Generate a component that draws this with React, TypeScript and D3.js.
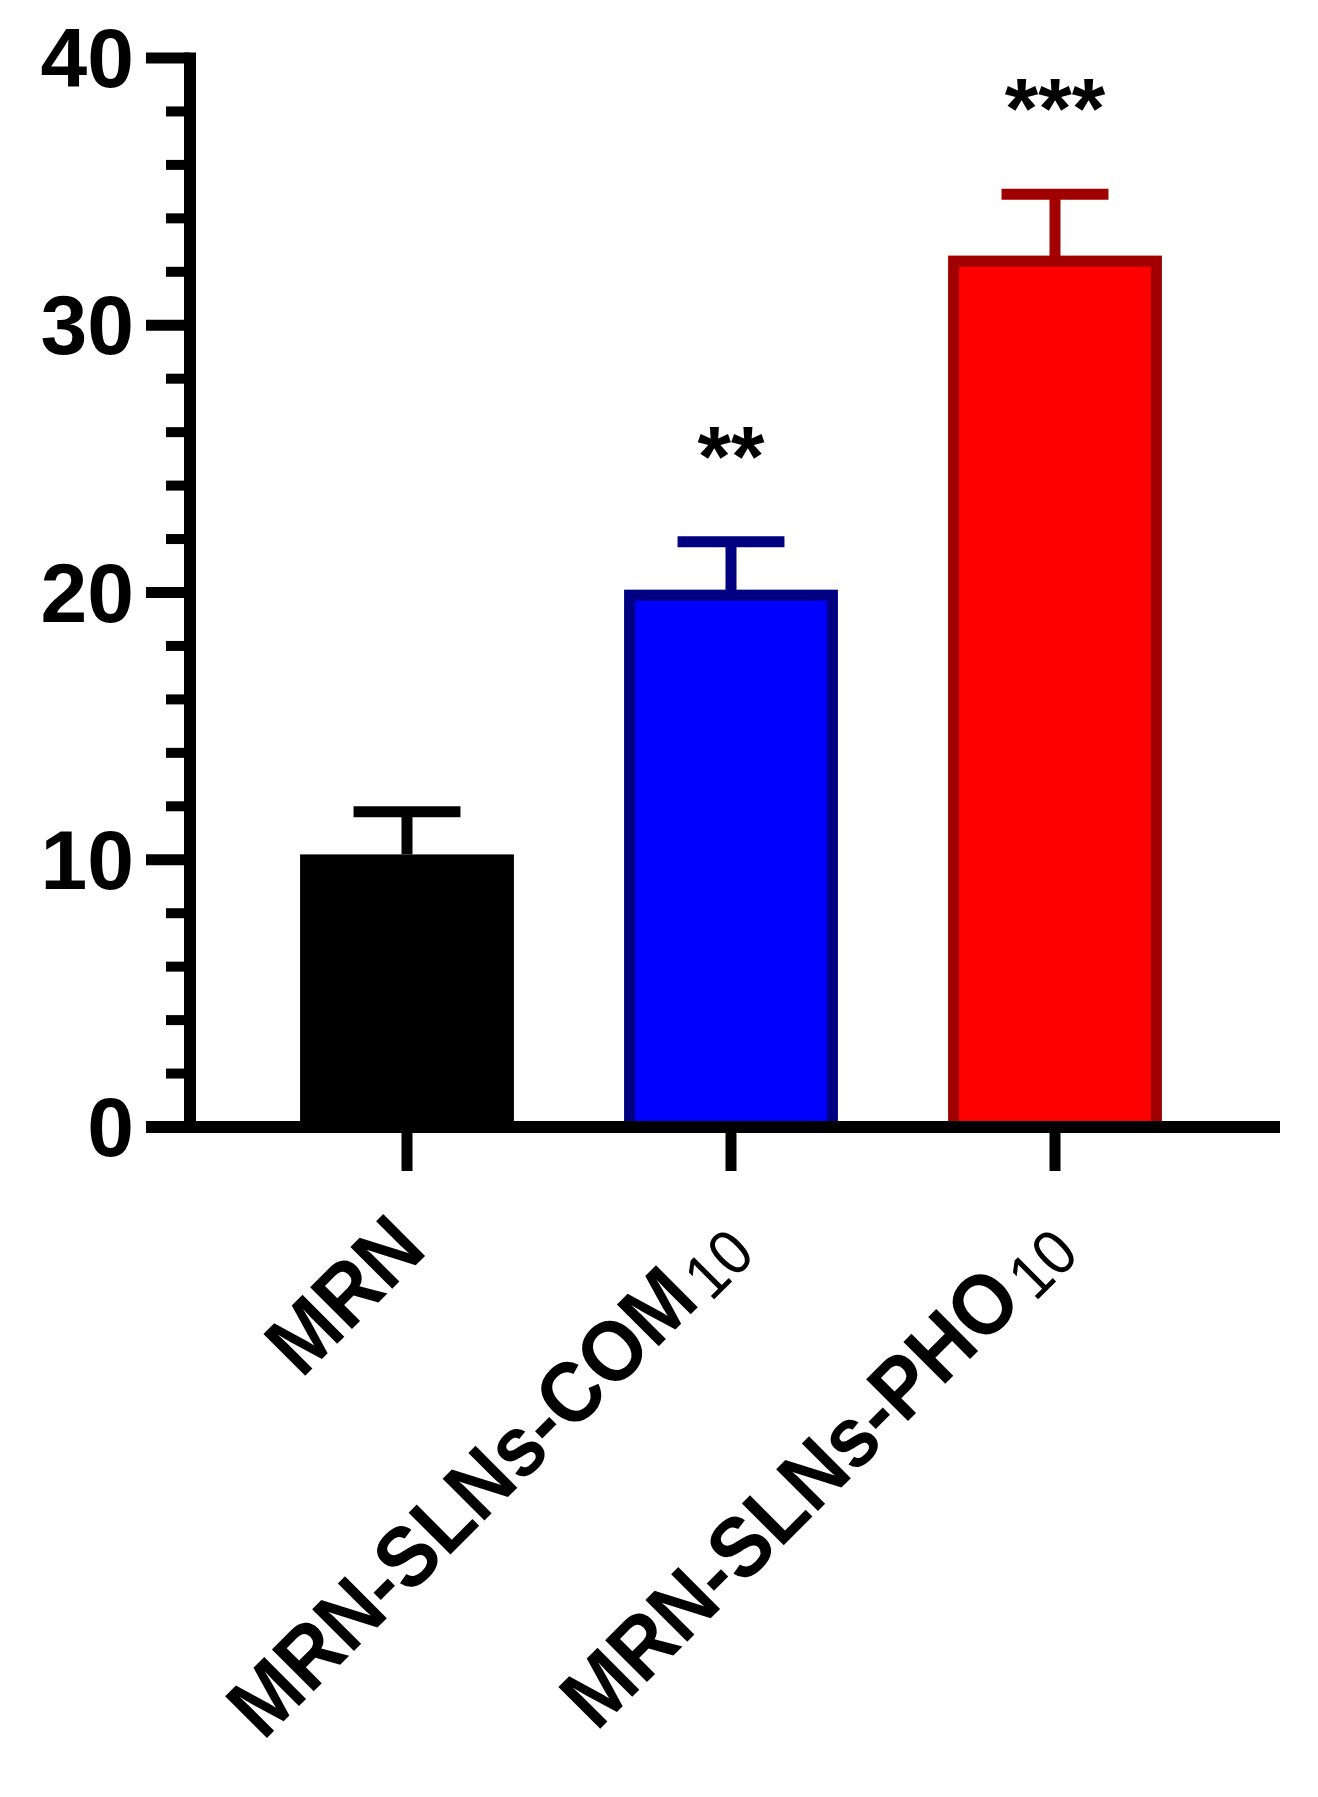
import React from "react";
import * as d3 from "d3";

const categories = ["MRN", "MRN-SLNs-COM", "MRN-SLNs-PHO"];
const subscripts = ["", "10", "10"];
const means = [10.2, 19.9, 32.4];
const errors = [1.6, 2.0, 2.5];
const fills = ["#000000", "#0000FF", "#FF0000"];
const strokes = ["#000000", "#000080", "#A00000"];
const stars = ["", "**", "***"];
const majorTicks = [0, 10, 20, 30, 40];
const minorTicks = [2, 4, 6, 8, 12, 14, 16, 18, 22, 24, 26, 28, 32, 34, 36, 38];

const W = 1318;
const H = 1797;

export default function App() {
  const y = d3.scaleLinear().domain([0, 40]).range([1127, 58]);
  const x = d3
    .scaleBand<string>()
    .domain(categories)
    .range([245, 1217])
    .paddingInner(0.34)
    .paddingOuter(0.17);
  const axisX = 190;
  const lw = 11;
  const font = "'Liberation Sans', Arial, sans-serif";
  const capHalf = x.bandwidth() / 4;
  const tickBottom = 1171;

  return (
    <svg
      width={W}
      height={H}
      viewBox={`0 0 ${W} ${H}`}
      style={{ position: "absolute", left: 0, top: 0, background: "#fff" }}
    >
      <rect x={0} y={0} width={W} height={H} fill="#fff" />
      {/* bars */}
      {categories.map((c, i) => {
        const bx = x(c)!;
        const bw = x.bandwidth();
        const sw = i === 0 ? 0 : 11;
        const top = y(means[i]);
        const capY = y(means[i] + errors[i]);
        return (
          <g key={c}>
            <rect
              x={bx + sw / 2}
              y={top}
              width={bw - sw}
              height={y(0) - top}
              fill={fills[i]}
              stroke={strokes[i]}
              strokeWidth={sw}
            />
            <line
              x1={bx + bw / 2}
              x2={bx + bw / 2}
              y1={top}
              y2={capY}
              stroke={strokes[i]}
              strokeWidth={lw}
            />
            <line
              x1={bx + bw / 2 - capHalf}
              x2={bx + bw / 2 + capHalf}
              y1={capY}
              y2={capY}
              stroke={strokes[i]}
              strokeWidth={lw}
            />
            {stars[i] && (
              <text
                x={bx + bw / 2}
                y={capY - 56}
                textAnchor="middle"
                fontFamily={font}
                fontWeight="bold"
                fontSize={86}
                fill="#000"
              >
                {stars[i]}
              </text>
            )}
          </g>
        );
      })}
      {/* y axis */}
      <line
        x1={axisX}
        x2={axisX}
        y1={y(40) - lw / 2}
        y2={y(0) + lw / 2}
        stroke="#000"
        strokeWidth={lw + 1}
      />
      {majorTicks.map((t) => (
        <g key={"M" + t}>
          <line x1={146} x2={axisX} y1={y(t)} y2={y(t)} stroke="#000" strokeWidth={lw} />
          <text
            x={134}
            y={y(t) + 29}
            textAnchor="end"
            fontFamily={font}
            fontWeight="bold"
            fontSize={84}
            fill="#000"
          >
            {t}
          </text>
        </g>
      ))}
      {minorTicks.map((t) => (
        <line key={"m" + t} x1={166} x2={axisX} y1={y(t)} y2={y(t)} stroke="#000" strokeWidth={10} />
      ))}
      {/* x axis */}
      <line x1={146} x2={1280} y1={y(0)} y2={y(0)} stroke="#000" strokeWidth={lw + 1} />
      {categories.map((c, i) => {
        const cx = x(c)! + x.bandwidth() / 2;
        return (
          <g key={"xt" + c}>
            <line x1={cx} x2={cx} y1={y(0)} y2={tickBottom} stroke="#000" strokeWidth={lw} />
            <text
              transform={`translate(${cx + 22},${tickBottom + 81}) rotate(-45) scale(0.92,1)`}
              textAnchor="end"
              fontFamily={font}
              fontWeight="bold"
              fontSize={86}
              fill="#000"
            >
              {c}
              {subscripts[i] && (
                <tspan fontWeight="normal" fontSize={64} dx={8} dy={6}>
                  {subscripts[i]}
                </tspan>
              )}
            </text>
          </g>
        );
      })}
    </svg>
  );
}
